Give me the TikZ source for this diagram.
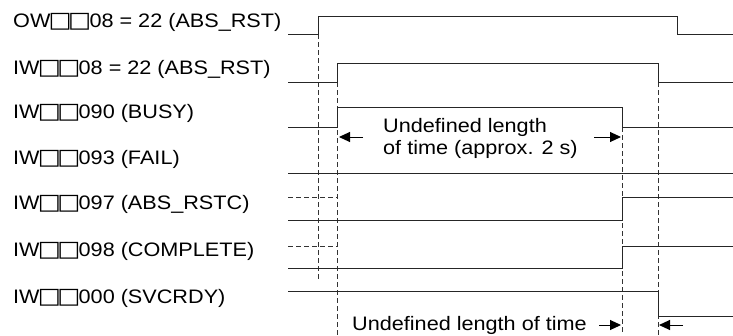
\documentclass[tikz,border=0pt]{standalone}
\usepackage{fontspec}
\usepackage{graphicx}
\setmainfont{Liberation Sans}
\newfontfamily\symfnt{DejaVu Sans}
\usetikzlibrary{arrows.meta}
\newcommand{\wsq}{{\symfnt\fontsize{22}{22}\selectfont\kern-1.6pt□\kern-1.6pt}}
\newcommand{\wtxt}[1]{\scalebox{1.11}[1]{#1}}
\begin{document}
\begin{tikzpicture}[x=1pt,y=-1pt,
  sig/.style={line width=1pt, black!85},
  guide/.style={line width=0.8pt, black!80, dash pattern=on 4.5pt off 3.5pt},
  lbl/.style={anchor=west, inner sep=0pt, font=\fontsize{19.5}{21.5}\selectfont},
  note/.style={inner sep=0pt, font=\fontsize{19.5}{21.5}\selectfont},
  arr/.style={-{Triangle[length=11pt,width=10pt]}, line width=1pt, black}
]
\useasboundingbox (0,0) rectangle (733,335);
% labels
\node[lbl] (l1) at (13,22) {\wtxt{OW\wsq\wsq08 = 22 (ABS\_RST)}};
\node[lbl] (l2) at (13,69) {\wtxt{IW\wsq\wsq08 = 22 (ABS\_RST)}};
\node[lbl] (l3) at (13,113) {\wtxt{IW\wsq\wsq090 (BUSY)}};
\node[lbl] (l4) at (13,159) {\wtxt{IW\wsq\wsq093 (FAIL)}};
\node[lbl] (l5) at (13,204) {\wtxt{IW\wsq\wsq097 (ABS\_RSTC)}};
\node[lbl] (l6) at (13,251) {\wtxt{IW\wsq\wsq098 (COMPLETE)}};
\node[lbl] (l7) at (13,298) {\wtxt{IW\wsq\wsq000 (SVCRDY)}};
% guide lines
\draw[guide] (318,34) -- (318,279);
\draw[guide] (337,82) -- (337,335);
\draw[guide] (622,127) -- (622,335);
\draw[guide] (658,82) -- (658,335);
\draw[guide] (288,197) -- (337,197);
\draw[guide] (288,246) -- (337,246);
% signals
\draw[sig] (288,34) -- (318,34) -- (318,16) -- (677,16) -- (677,34) -- (733,34);
\draw[sig] (288,82) -- (337,82) -- (337,63) -- (658,63) -- (658,82) -- (733,82);
\draw[sig] (288,127) -- (337,127) -- (337,107) -- (622,107) -- (622,127) -- (733,127);
\draw[sig] (288,173) -- (733,173);
\draw[sig] (288,220) -- (622,220) -- (622,197) -- (733,197);
\draw[sig] (288,268) -- (622,268) -- (622,246) -- (733,246);
\draw[sig] (288,291) -- (658,291) -- (658,316) -- (733,316);
% notes
\node[note, anchor=west, align=left] (n1) at (383,138.5) {\wtxt{Undefined length}\\\wtxt{of time (approx. 2 s)}};
\node[note, anchor=east] (n2) at (587,325) {\wtxt{Undefined length of time}};
% arrows
\coordinate (a1s) at (363,137); \coordinate (a1e) at (339,137);
\coordinate (a2s) at (594,137); \coordinate (a2e) at (621,137);
\coordinate (a3s) at (599,325); \coordinate (a3e) at (621,325);
\coordinate (a4s) at (683,325); \coordinate (a4e) at (659,325);
\draw[arr] (a1s) -- (a1e);
\draw[arr] (a2s) -- (a2e);
\draw[arr] (a3s) -- (a3e);
\draw[arr] (a4s) -- (a4e);
\end{tikzpicture}
\end{document}
